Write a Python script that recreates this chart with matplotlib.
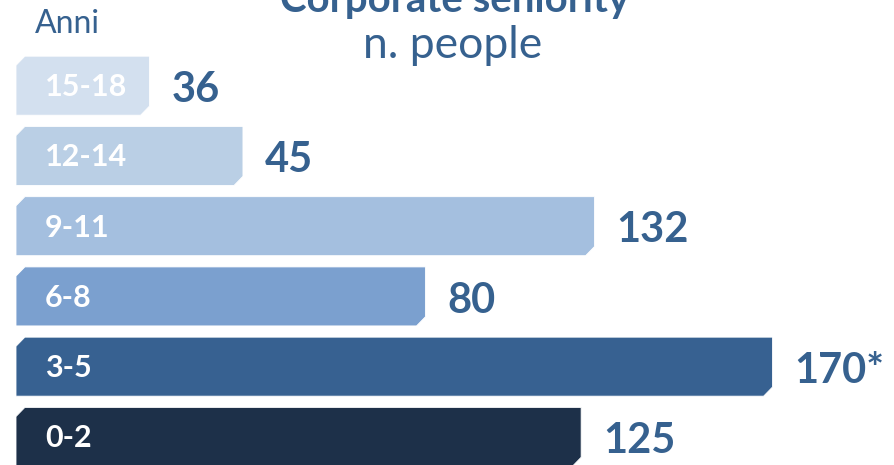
import matplotlib.pyplot as plt
from matplotlib.patches import Polygon

# dati
fasce = ['0-2', '3-5', '6-8', '9-11', '12-14', '15-18']
persone = [125, 170, 80, 132, 45, 36]
etichette = ['125', '170*', '80', '132', '45', '36']
# lunghezza delle barre come appare nel grafico originale
lunghezze = [127, 170, 92, 130, 51, 30]
colori = ['#1d3049', '#376191', '#7ba0cf', '#a4bfdf', '#bacfe5', '#d3e0ef']

blu = '#36618f'

fig = plt.figure(figsize=(8.94, 4.65), dpi=100)
ax = fig.add_axes([0, 0, 1, 1])
ax.set_xlim(-16 / 4.45, 878 / 4.45)
ax.set_ylim(-0.4, 6.22)
ax.axis('off')

h = 0.42   # meta' altezza barra
cx = 2.0   # smusso orizzontale
cy = 0.13  # smusso verticale

for i in range(len(fasce)):
    L = lunghezze[i]
    pts = [(0, i - h), (0, i + h - cy), (cx, i + h), (L, i + h),
           (L, i - h + cy), (L - cx, i - h)]
    ax.add_patch(Polygon(pts, closed=True, facecolor=colori[i],
                         edgecolor='white', linewidth=0.6))
    ax.text(6.5, i - 0.02, fasce[i], color='white', fontsize=22,
            fontweight='bold', family='Lato', va='center', ha='left')
    ax.text(L + 5.0, i - 0.06, etichette[i], color=blu, fontsize=30,
            fontweight='bold', family='Lato', va='center', ha='left')

fig.text(0.508, 1.0 - 12 / 465, 'Corporate seniority', color=blu, fontsize=29,
         fontweight='bold', family='Lato', ha='center', va='baseline')
fig.text(0.506, 1.0 - 58 / 465, 'n. people', color=blu, fontsize=32,
         fontweight='normal', family='Lato', ha='center', va='baseline')
fig.text(35 / 894, 1.0 - 33 / 465, 'Anni', color=blu, fontsize=23,
         fontweight='normal', family='Lato', ha='left', va='baseline')

fig.savefig('out.png', dpi=100)
